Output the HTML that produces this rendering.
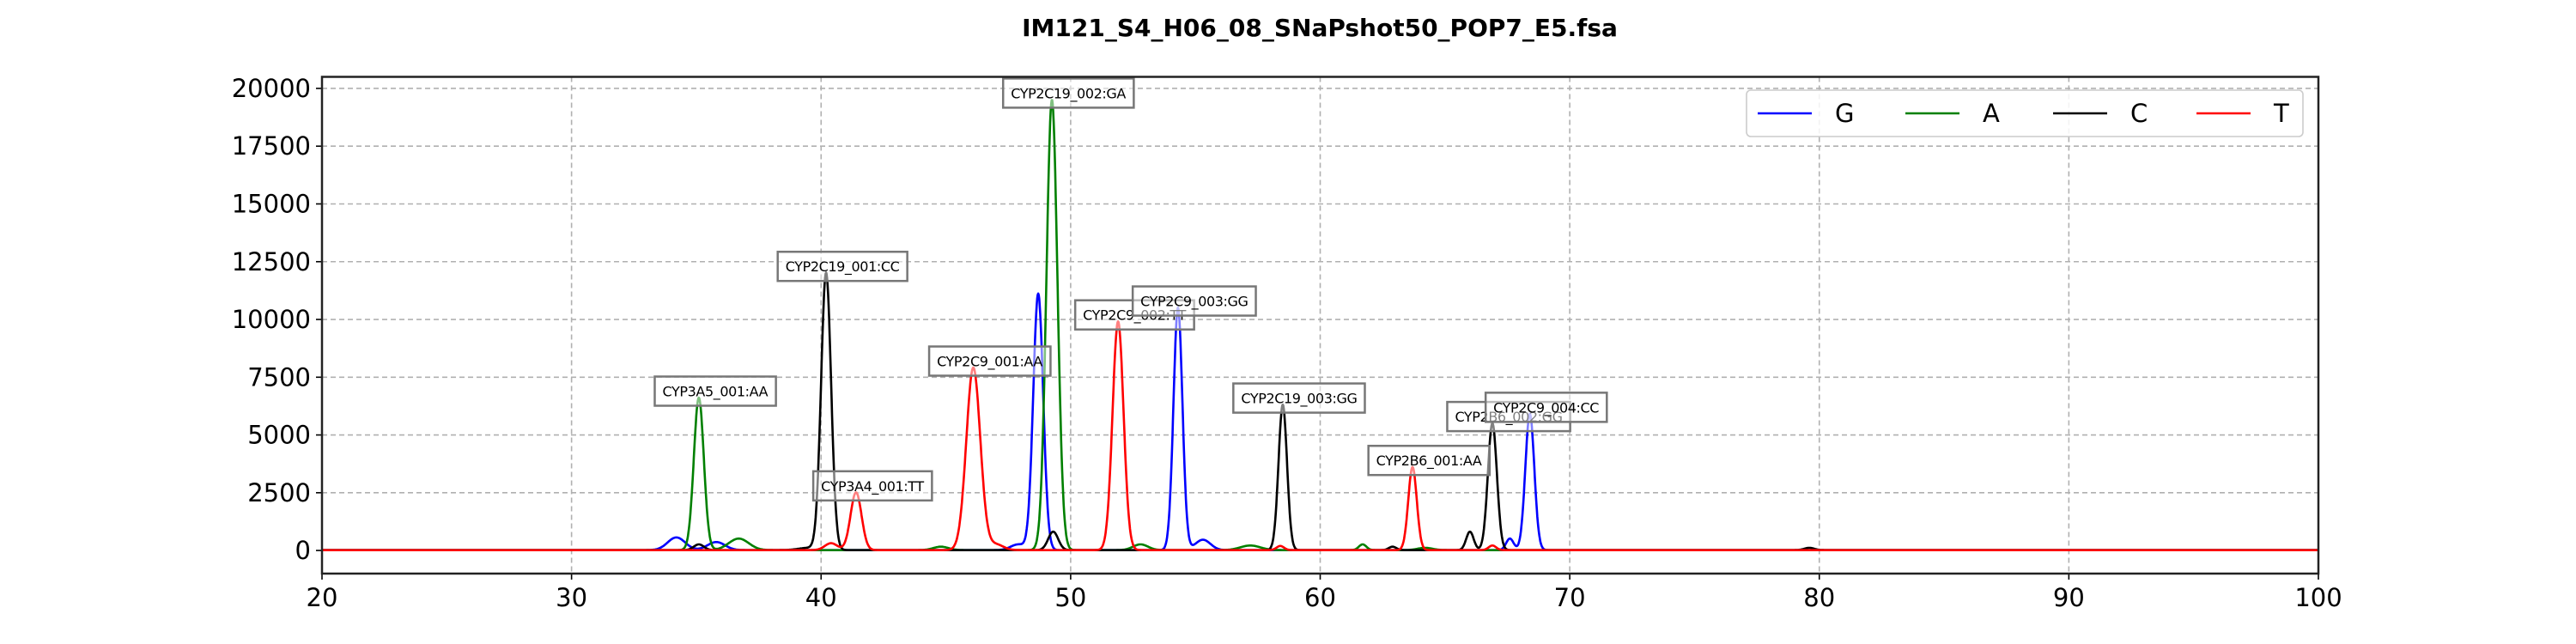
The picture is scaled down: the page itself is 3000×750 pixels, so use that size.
<!DOCTYPE html>
<html><head><meta charset="utf-8"><style>
html,body{margin:0;padding:0;background:#fff;}
svg{display:block;font-family:"DejaVu Sans","Liberation Sans",sans-serif;}
</style></head><body>
<svg id="chart" width="3000" height="750" viewBox="0 0 3000 750" xmlns="http://www.w3.org/2000/svg">
<rect x="0" y="0" width="3000" height="750" fill="#fff"/>
<text x="1537" y="42" text-anchor="middle" font-size="28" font-weight="bold" fill="#000">IM121_S4_H06_08_SNaPshot50_POP7_E5.fsa</text>
<g id="grid"></g>
<g id="series"></g>
<g id="annots"></g>
<g id="axes"></g>
<g id="legend"></g>
</svg>
<script>
// ---- data ----
const xTicks = [20,30,40,50,60,70,80,90,100];
const yTicks = [0,2500,5000,7500,10000,12500,15000,17500,20000];
const channelNames = ["G","A","C","T"];
const channelColors = ["#0000ff","#008000","#000000","#ff0000"];
// peaks per channel: centers (bp), heights (RFU), widths (sigma, bp)
const gCenters = [34.2,35.8,47.9,48.7,54.3,55.3,67.6,68.4];
const gHeights = [550,350,250,11100,10500,450,500,5900];
const gWidths  = [0.35,0.35,0.3,0.2,0.18,0.3,0.15,0.18];
const aCenters = [35.1,36.7,44.8,49.25,52.8,57.2,61.7,64.2];
const aHeights = [6600,500,150,19500,250,200,250,100];
const aWidths  = [0.2,0.4,0.3,0.22,0.3,0.4,0.15,0.3];
const cCenters = [35.1,39.5,40.2,49.3,58.5,62.9,66.0,66.9,79.6];
const cHeights = [250,100,12000,800,6300,150,800,5500,100];
const cWidths  = [0.2,0.4,0.2,0.2,0.17,0.15,0.15,0.18,0.2];
const tCenters = [40.4,41.4,46.1,47.0,51.9,58.4,63.7,66.9];
const tHeights = [300,2500,7900,250,9900,180,3600,200];
const tWidths  = [0.25,0.22,0.28,0.3,0.22,0.15,0.17,0.15];
const annLabels = ["CYP3A5_001:AA","CYP2C19_001:CC","CYP3A4_001:TT","CYP2C9_001:AA","CYP2C19_002:GA","CYP2C9_002:TT","CYP2C9_003:GG","CYP2C19_003:GG","CYP2B6_001:AA","CYP2B6_002:GG","CYP2C9_004:CC"];
const annX = [35.1,40.2,41.4,46.1,49.25,51.9,54.3,58.5,63.7,66.9,68.4];
const annY = [6600,12000,2500,7900,19500,9900,10500,6300,3600,5500,5900];

// ---- axes ----
const L=375,R=2700,T=89.5,B=668, xMin=20,xMax=100,yMin=-1000,yMax=20500;
const sx=v=>L+(v-xMin)/(xMax-xMin)*(R-L);
const sy=v=>B-(v-yMin)/(yMax-yMin)*(B-T);
const NS="http://www.w3.org/2000/svg";
function mk(tag,attrs,parent){const e=document.createElementNS(NS,tag);for(const k in attrs)e.setAttribute(k,attrs[k]);parent.appendChild(e);return e;}
const grid=document.getElementById('grid'),axes=document.getElementById('axes'),series=document.getElementById('series'),annots=document.getElementById('annots'),legend=document.getElementById('legend');

xTicks.forEach(v=>{
  const gl=mk('line',{x1:sx(v),x2:sx(v),y1:T,y2:B,stroke:'#b0b0b0','stroke-width':1.6,'stroke-dasharray':'6,4'},grid);
  
  
  const tk=mk('line',{x1:sx(v),x2:sx(v),y1:B,y2:B+7,stroke:'#000','stroke-width':1.6},axes);
  
  
  const t=mk('text',{x:sx(v),y:B+38,'text-anchor':'middle','font-size':29,fill:'#000'},axes);
  t.textContent=v;
  
  
});
yTicks.forEach(v=>{
  const gl=mk('line',{x1:L,x2:R,y1:sy(v),y2:sy(v),stroke:'#b0b0b0','stroke-width':1.6,'stroke-dasharray':'6,4'},grid);
  
  
  const tk=mk('line',{x1:L-7,x2:L,y1:sy(v),y2:sy(v),stroke:'#000','stroke-width':1.6},axes);
  
  
  const t=mk('text',{x:L-13,y:sy(v)+10,'text-anchor':'end','font-size':29,fill:'#000'},axes);
  t.textContent=v;
  
  
});
const frame=mk('rect',{x:L,y:T,width:R-L,height:B-T,fill:'none',stroke:'#222','stroke-width':2.5},axes);



// ---- series ----
const chans=[[gCenters,gHeights,gWidths],[aCenters,aHeights,aWidths],[cCenters,cHeights,cWidths],[tCenters,tHeights,tWidths]];
chans.forEach((ch,i)=>{
  const [c,h,w]=ch;
  let d='';
  for(let x=xMin;x<=xMax+1e-9;x+=0.02){
    let y=15;
    for(let k=0;k<c.length;k++){const z=(x-c[k])/w[k];y+=h[k]*Math.exp(-0.5*z*z);}
    d+=(d?'L':'M')+sx(x).toFixed(1)+','+sy(y).toFixed(1);
  }
  const p=mk('path',{d:d,fill:'none',stroke:channelColors[i],'stroke-width':2.6,'stroke-linejoin':'round'},series);
  
  
});

// ---- annotations ----
annLabels.forEach((lab,i)=>{
  const g=mk('g',{},annots);
  
  
  const cx=sx(annX[i])+19, cy=sy(annY[i])-8;
  const t=mk('text',{x:cx,y:cy+6,'text-anchor':'middle','font-size':16,'letter-spacing':'-0.4',fill:'#000'},g);
  t.textContent=lab;
  const bb=t.getBBox();
  const r=mk('rect',{x:bb.x-9,y:cy-17,width:bb.width+18,height:34,fill:'rgba(255,255,255,0.5)',stroke:'#777','stroke-width':2.5},g);
  g.insertBefore(r,t);
});

// ---- legend ----
const lb=mk('rect',{x:2034,y:105,width:648,height:54,rx:5,fill:'rgba(255,255,255,0.85)',stroke:'#ccc','stroke-width':1.6},legend);


const lx=[2047,2219,2391,2558];
channelNames.forEach((n,i)=>{
  const g=mk('g',{},legend);
  
  
  mk('line',{x1:lx[i],x2:lx[i]+63,y1:132,y2:132,stroke:channelColors[i],'stroke-width':2.6},g);
  const t=mk('text',{x:lx[i]+90,y:142,'font-size':29,fill:'#000'},g);
  t.textContent=n;
});
</script>
</body></html>
